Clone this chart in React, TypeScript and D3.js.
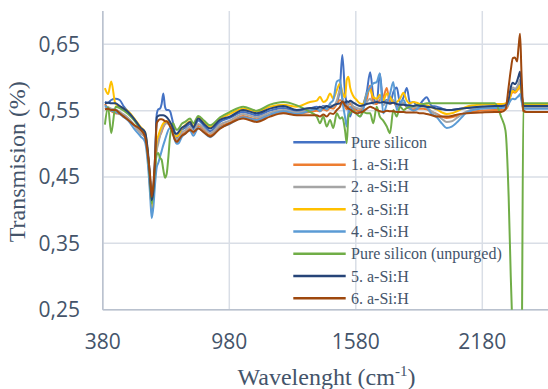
import React from "react";
import * as d3 from "d3";

const wavenumbers = [390,405,420,440,460,480,500,530,560,580,
595,605,612,620,628,636,643,651,659,667,
675,683,691,699,707,714,722,731,740,754,
770,794,809,833,860,889,936,983,1046,1110,
1173,1236,1300,1363,1395,1410,1426,1442,1458,1473,
1490,1505,1516,1529,1537,1545,1553,1568,1584,1600,
1616,1632,1648,1663,1679,1694,1710,1727,1742,1758,
1774,1790,1806,1822,1837,1853,1869,1885,1900,1916,
1940,1964,1990,2011,2035,2059,2106,2169,2240,2270,
2290,2305,2315,2325,2335,2345,2352,2359,2366,2375,
2390,2450,2600,2780];

const pureSilicon = [0.563,0.562,0.566,0.568,0.566,0.556,0.548,0.536,0.522,0.514,
0.480,0.440,0.398,0.425,0.470,0.545,0.552,0.553,0.560,0.576,
0.556,0.551,0.551,0.549,0.540,0.530,0.516,0.508,0.512,0.521,
0.524,0.530,0.522,0.535,0.527,0.519,0.533,0.539,0.548,0.543,
0.550,0.554,0.549,0.553,0.556,0.554,0.557,0.556,0.558,0.556,
0.562,0.585,0.634,0.576,0.561,0.553,0.541,0.556,0.551,0.548,
0.560,0.578,0.608,0.572,0.560,0.606,0.563,0.566,0.560,0.578,
0.585,0.562,0.570,0.584,0.562,0.563,0.558,0.560,0.566,0.570,
0.557,0.556,0.553,0.551,0.551,0.552,0.554,0.555,0.556,0.556,
0.557,0.563,0.575,0.582,0.580,0.583,0.588,0.592,0.575,0.555,
0.555,0.555,0.555,0.555];

const aSiH1 = [0.560,0.553,0.549,0.546,0.545,0.542,0.537,0.527,0.516,0.510,
0.475,0.435,0.410,0.425,0.460,0.498,0.505,0.512,0.518,0.525,
0.530,0.533,0.532,0.530,0.525,0.516,0.507,0.503,0.506,0.514,
0.517,0.523,0.516,0.527,0.520,0.513,0.526,0.532,0.542,0.537,
0.544,0.548,0.545,0.548,0.550,0.549,0.552,0.550,0.554,0.553,
0.560,0.566,0.563,0.556,0.552,0.558,0.561,0.553,0.550,0.551,
0.556,0.567,0.588,0.562,0.560,0.566,0.570,0.584,0.560,0.563,
0.556,0.558,0.560,0.555,0.553,0.552,0.553,0.553,0.553,0.552,
0.548,0.545,0.541,0.539,0.540,0.542,0.547,0.550,0.551,0.551,
0.552,0.560,0.573,0.578,0.577,0.580,0.583,0.587,0.570,0.549,
0.548,0.548,0.548,0.548];

const aSiH2 = [0.556,0.555,0.553,0.552,0.548,0.544,0.539,0.528,0.516,0.510,
0.475,0.432,0.405,0.420,0.455,0.490,0.500,0.512,0.520,0.527,
0.530,0.531,0.530,0.528,0.524,0.516,0.510,0.507,0.509,0.517,
0.520,0.526,0.518,0.530,0.523,0.516,0.529,0.535,0.545,0.540,
0.547,0.551,0.547,0.551,0.553,0.552,0.556,0.553,0.558,0.556,
0.565,0.581,0.570,0.560,0.556,0.560,0.565,0.556,0.554,0.553,
0.557,0.563,0.568,0.560,0.566,0.570,0.558,0.565,0.560,0.566,
0.558,0.560,0.562,0.557,0.556,0.555,0.555,0.556,0.556,0.555,
0.549,0.544,0.537,0.533,0.534,0.539,0.549,0.554,0.555,0.555,
0.556,0.563,0.578,0.585,0.583,0.586,0.591,0.597,0.575,0.554,
0.554,0.554,0.554,0.554];

const aSiH3 = [0.584,0.575,0.594,0.560,0.556,0.553,0.549,0.538,0.525,0.518,
0.480,0.430,0.403,0.425,0.465,0.506,0.512,0.520,0.526,0.531,
0.533,0.534,0.533,0.531,0.527,0.520,0.513,0.511,0.514,0.523,
0.528,0.534,0.527,0.540,0.533,0.525,0.538,0.545,0.553,0.549,
0.556,0.559,0.556,0.563,0.565,0.571,0.563,0.566,0.576,0.568,
0.581,0.591,0.578,0.570,0.596,0.601,0.585,0.572,0.566,0.561,
0.560,0.575,0.581,0.570,0.568,0.574,0.565,0.576,0.571,0.562,
0.563,0.568,0.577,0.565,0.561,0.563,0.562,0.560,0.559,0.558,
0.555,0.552,0.547,0.545,0.546,0.549,0.556,0.559,0.560,0.560,
0.561,0.565,0.574,0.580,0.578,0.581,0.584,0.588,0.575,0.560,
0.560,0.560,0.560,0.560];

const aSiH4 = [0.558,0.553,0.550,0.548,0.545,0.540,0.535,0.522,0.511,0.503,
0.465,0.420,0.388,0.405,0.440,0.465,0.471,0.480,0.489,0.498,
0.506,0.514,0.521,0.524,0.524,0.515,0.505,0.500,0.501,0.510,
0.515,0.520,0.512,0.524,0.517,0.510,0.524,0.530,0.540,0.536,
0.544,0.549,0.545,0.550,0.553,0.549,0.555,0.552,0.561,0.566,
0.594,0.596,0.566,0.540,0.526,0.548,0.556,0.550,0.545,0.541,
0.552,0.575,0.585,0.591,0.593,0.606,0.546,0.560,0.575,0.593,
0.551,0.561,0.566,0.556,0.553,0.550,0.552,0.556,0.558,0.555,
0.545,0.540,0.530,0.524,0.526,0.532,0.547,0.553,0.554,0.554,
0.555,0.560,0.566,0.568,0.567,0.570,0.572,0.575,0.565,0.553,
0.553,0.553,0.553,0.553];

const pureSiliconUnpurged = [0.529,0.555,0.516,0.556,0.554,0.550,0.545,0.535,0.522,0.515,
0.480,0.440,0.410,0.430,0.465,0.484,0.486,0.479,0.476,0.461,
0.449,0.455,0.480,0.511,0.525,0.531,0.525,0.521,0.523,0.530,
0.533,0.538,0.531,0.542,0.535,0.528,0.540,0.548,0.556,0.550,
0.559,0.563,0.558,0.548,0.541,0.531,0.541,0.526,0.536,0.524,
0.546,0.538,0.540,0.520,0.501,0.541,0.546,0.550,0.545,0.541,
0.548,0.546,0.546,0.531,0.556,0.541,0.535,0.526,0.516,0.551,
0.541,0.556,0.551,0.554,0.556,0.557,0.558,0.559,0.560,0.561,
0.561,0.561,0.561,0.561,0.561,0.561,0.561,0.561,0.561,0.540,
0.520,0.420,0.300,0.200,0.120,0.100,0.100,0.120,0.150,0.561,
0.561,0.561,0.561,0.561];

const aSiH5 = [0.561,0.562,0.561,0.561,0.557,0.553,0.548,0.537,0.524,0.518,
0.485,0.445,0.415,0.430,0.480,0.540,0.542,0.543,0.543,0.543,
0.542,0.540,0.537,0.533,0.528,0.522,0.516,0.515,0.518,0.524,
0.527,0.533,0.525,0.538,0.530,0.523,0.536,0.541,0.551,0.546,
0.553,0.557,0.551,0.554,0.553,0.556,0.554,0.557,0.555,0.558,
0.560,0.561,0.563,0.562,0.564,0.563,0.565,0.562,0.559,0.557,
0.558,0.560,0.561,0.562,0.563,0.562,0.563,0.562,0.561,0.562,
0.560,0.559,0.559,0.558,0.558,0.557,0.558,0.557,0.557,0.556,
0.555,0.553,0.552,0.551,0.551,0.552,0.554,0.556,0.557,0.557,
0.558,0.567,0.585,0.592,0.590,0.595,0.602,0.609,0.580,0.557,
0.557,0.557,0.557,0.557];

const aSiH6 = [0.552,0.553,0.551,0.551,0.546,0.541,0.536,0.528,0.521,0.511,
0.480,0.450,0.420,0.440,0.480,0.531,0.535,0.537,0.537,0.536,
0.534,0.534,0.531,0.526,0.521,0.513,0.506,0.503,0.506,0.512,
0.515,0.521,0.518,0.523,0.517,0.511,0.523,0.531,0.538,0.533,
0.541,0.546,0.543,0.543,0.543,0.541,0.544,0.541,0.546,0.545,
0.551,0.556,0.564,0.558,0.556,0.553,0.552,0.548,0.546,0.547,
0.549,0.553,0.556,0.554,0.551,0.549,0.548,0.550,0.549,0.549,
0.548,0.548,0.548,0.547,0.547,0.547,0.547,0.546,0.546,0.545,
0.543,0.541,0.541,0.541,0.542,0.544,0.546,0.547,0.548,0.548,
0.552,0.586,0.611,0.629,0.630,0.624,0.646,0.666,0.606,0.550,
0.548,0.548,0.548,0.548];

const seriesNames = ["Pure silicon", "1. a-Si:H", "2. a-Si:H", "3. a-Si:H", "4. a-Si:H", "Pure silicon (unpurged)", "5. a-Si:H", "6. a-Si:H"];
const seriesValues = [pureSilicon, aSiH1, aSiH2, aSiH3, aSiH4, pureSiliconUnpurged, aSiH5, aSiH6];
const seriesColors = ["#4472c4", "#ed7d31", "#a5a5a5", "#ffc000", "#5b9bd5", "#70ad47", "#264478", "#9e480e"];

const xTicks = [380, 980, 1580, 2180];
const yTicks = [0.25, 0.35, 0.45, 0.55, 0.65];

const W = 548, H = 389;
const plotLeft = 102.8, plotRight = 608.8, plotTop = 11.1, plotBottom = 309.7;
const textColor = "#44546a";

export default function App() {
  const x = d3.scaleLinear().domain([380, 2780]).range([plotLeft, plotRight]);
  const y = d3.scaleLinear().domain([0.25, 0.70]).range([plotBottom, plotTop]);
  const line = d3.line<[number, number]>()
    .x(d => x(d[0]))
    .y(d => y(d[1]))
    .curve(d3.curveMonotoneX);
  const fmt = (v: number) => d3.format(".2f")(v).replace(".", ",");
  const legendRows = [142.3, 164.7, 186.9, 209.2, 231.4, 253.7, 276.0, 298.3];

  return (
    <svg width={W} height={H} style={{ position: "absolute", left: 0, top: 0, background: "#fff" }}>
      <defs>
        <clipPath id="plotClip">
          <rect x={plotLeft} y={plotTop - 5} width={W - plotLeft} height={plotBottom - plotTop + 5} />
        </clipPath>
      </defs>
      {yTicks.map(t => (
        <line key={"gy" + t} x1={plotLeft} x2={W} y1={y(t)} y2={y(t)} stroke="#d9dee6" strokeWidth={1.5} />
      ))}
      {xTicks.map(t => (
        <line key={"gx" + t} x1={x(t)} x2={x(t)} y1={plotTop} y2={plotBottom} stroke="#d9dee6" strokeWidth={1.5} />
      ))}
      <line x1={plotLeft} x2={plotLeft} y1={plotTop} y2={plotBottom} stroke="#b9c1ce" strokeWidth={1.5} />
      <line x1={plotLeft} x2={W} y1={plotBottom} y2={plotBottom} stroke="#b9c1ce" strokeWidth={1.5} />
      <g clipPath="url(#plotClip)">
        {seriesValues.map((vals, i) => (
          <path key={seriesNames[i]}
            d={line(wavenumbers.map((w, j) => [w, vals[j]] as [number, number])) || ""}
            fill="none" stroke={seriesColors[i]} strokeWidth={2} strokeLinejoin="round" />
        ))}
      </g>
      {yTicks.map(t => (
        <text key={"ty" + t} x={80} y={y(t) + 7.5} textAnchor="end" fontFamily="'Open Sans', sans-serif" fontSize={21} fill={textColor}>{fmt(t)}</text>
      ))}
      {xTicks.map(t => (
        <text key={"tx" + t} x={x(t)} y={348.5} textAnchor="middle" fontFamily="'Open Sans', sans-serif" fontSize={21} fill={textColor}>{t}</text>
      ))}
      <text x={326.5} y={385} textAnchor="middle" fontFamily="'Liberation Serif', serif" fontSize={24} fill={textColor}>
        Wavelenght (cm<tspan fontSize={15} dy={-9}>-1</tspan><tspan dy={9}>)</tspan>
      </text>
      <text transform={`translate(25,161.7) rotate(-90)`} textAnchor="middle" fontFamily="'Liberation Serif', serif" fontSize={24} fill={textColor}>
        Transmision (%)
      </text>
      {seriesNames.map((n, i) => (
        <g key={"lg" + n}>
          <line x1={293.3} x2={345.7} y1={legendRows[i]} y2={legendRows[i]} stroke={seriesColors[i]} strokeWidth={2.5} />
          <text x={351} y={legendRows[i] + 5.5} fontFamily="'Liberation Serif', serif" fontSize={16} fill={textColor}>{n}</text>
        </g>
      ))}
    </svg>
  );
}
